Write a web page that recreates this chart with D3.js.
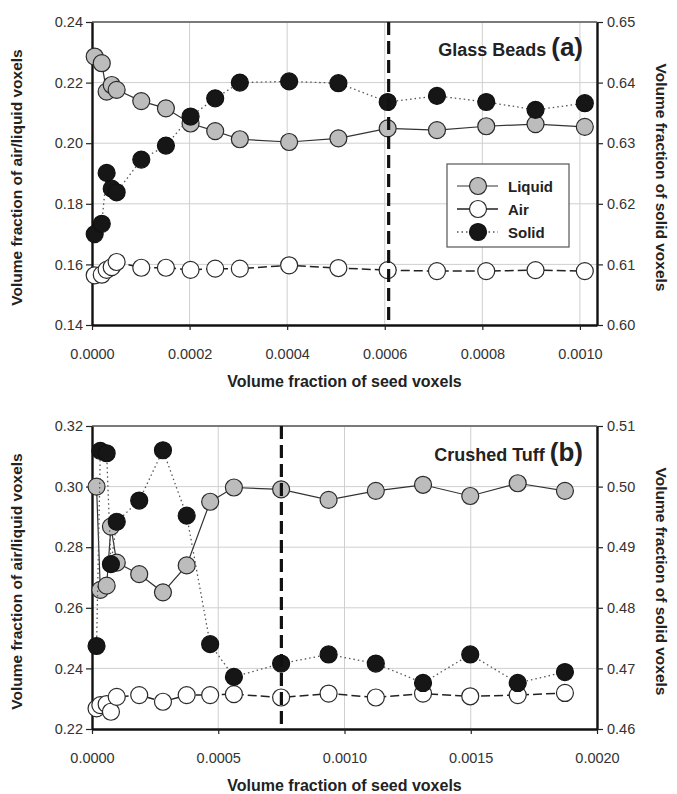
<!DOCTYPE html>
<html><head><meta charset="utf-8">
<script src="https://cdn.jsdelivr.net/npm/d3@7"></script>
<style>
html,body{margin:0;padding:0;background:#fff;}
text{font-family:"Liberation Sans",Arial,sans-serif;}
</style></head>
<body><svg id="chart" width="677" height="794"></svg>
<script>
// ---- Panel (a): Glass Beads ----
const topX = [0.0000055, 0.00002, 0.00003, 0.0000404, 0.0000505, 0.000101, 0.0001515, 0.000202, 0.0002525, 0.000303, 0.000404, 0.000505, 0.000606, 0.000707, 0.000808, 0.000909, 0.00101];
const topLiquid = [0.2286, 0.2264, 0.2170, 0.2192, 0.2176, 0.2139, 0.2115, 0.2065, 0.2040, 0.2013, 0.2004, 0.2016, 0.2049, 0.2043, 0.2056, 0.2063, 0.2054];
const topAir = [0.1564, 0.1566, 0.1582, 0.1591, 0.1608, 0.1589, 0.1589, 0.1582, 0.1586, 0.1586, 0.1597, 0.1588, 0.1581, 0.1578, 0.1578, 0.1581, 0.1578];
const topSolid = [0.6150, 0.6167, 0.6251, 0.6225, 0.6219, 0.6273, 0.6296, 0.6344, 0.6374, 0.6400, 0.6402, 0.6399, 0.6368, 0.6378, 0.6368, 0.6355, 0.6366];
const topXTicks = [0, 0.0002, 0.0004, 0.0006, 0.0008, 0.0010];
const topLeftTicks = [0.14, 0.16, 0.18, 0.20, 0.22, 0.24];
const topRightTicks = [0.60, 0.61, 0.62, 0.63, 0.64, 0.65];
const topMarker = 0.000608;

// ---- Panel (b): Crushed Tuff ----
const botX = [0.000018, 0.000033, 0.000058, 0.000075, 0.000098, 0.000187, 0.000281, 0.000375, 0.000468, 0.000562, 0.000749, 0.000937, 0.001124, 0.001311, 0.001498, 0.001686, 0.001873];
const botLiquid = [0.3000, 0.2659, 0.2673, 0.2868, 0.2749, 0.2711, 0.2651, 0.2740, 0.2950, 0.2997, 0.2991, 0.2956, 0.2986, 0.3006, 0.2969, 0.3011, 0.2986];
const botAir = [0.2268, 0.2279, 0.2282, 0.2257, 0.2306, 0.2312, 0.2290, 0.2312, 0.2312, 0.2315, 0.2304, 0.2317, 0.2304, 0.2317, 0.2308, 0.2312, 0.2319];
const botSolid = [0.4737, 0.5059, 0.5055, 0.4872, 0.4942, 0.4977, 0.5060, 0.4952, 0.4740, 0.4686, 0.4708, 0.4723, 0.4708, 0.4676, 0.4723, 0.4676, 0.4694];
const botXTicks = [0, 0.0005, 0.0010, 0.0015, 0.0020];
const botLeftTicks = [0.22, 0.24, 0.26, 0.28, 0.30, 0.32];
const botRightTicks = [0.46, 0.47, 0.48, 0.49, 0.50, 0.51];
const botMarker = 0.00075;

const seriesNames = ["Liquid", "Air", "Solid"];

const svg = d3.select("#chart");
const styles = {
  Liquid: {fill: "#bcbcbc", stroke: "#2a2a2a", line: "#333", dash: null, lw: 1.2},
  Air:    {fill: "#ffffff", stroke: "#2a2a2a", line: "#222", dash: "9,4", lw: 1.5},
  Solid:  {fill: "#161616", stroke: "#111", line: "#555", dash: "1.5,3", lw: 1.3}
};
const R = 8.5;

function panel(cfg) {
  const L = 92, Rt = 597;
  const x = d3.scaleLinear().domain(cfg.xDomain).range([L, Rt]);
  const yl = d3.scaleLinear().domain(cfg.yl).range([cfg.bottom, cfg.top]);
  const yr = d3.scaleLinear().domain(cfg.yr).range([cfg.bottom, cfg.top]);
  const g = svg.append("g");

  // gridlines
  g.append("g").selectAll("line").data(cfg.xTicks.slice(1)).join("line")
    .attr("x1", d => x(d)).attr("x2", d => x(d)).attr("y1", cfg.top).attr("y2", cfg.bottom)
    .attr("stroke", "#cfcfcf").attr("stroke-width", 1);
  g.append("g").selectAll("line").data(cfg.leftTicks.slice(1)).join("line")
    .attr("x1", L).attr("x2", Rt).attr("y1", d => yl(d)).attr("y2", d => yl(d))
    .attr("stroke", "#cfcfcf").attr("stroke-width", 1);

  // top border
  g.append("line").attr("x1", L).attr("x2", Rt).attr("y1", cfg.top).attr("y2", cfg.top)
    .attr("stroke", "#7a7a7a").attr("stroke-width", 2);

  // axes
  const fmtX = d3.format(".4f"), fmtY = d3.format(".2f");
  const ax = g.append("g").attr("transform", `translate(0,${cfg.bottom})`)
    .call(d3.axisBottom(x).tickValues(cfg.xTicks).tickFormat(fmtX).tickSizeOuter(0).tickSizeInner(5).tickPadding(19));
  const al = g.append("g").attr("transform", `translate(${L},0)`)
    .call(d3.axisLeft(yl).tickValues(cfg.leftTicks).tickFormat(fmtY).tickSizeOuter(0).tickSizeInner(6).tickPadding(3));
  const ar = g.append("g").attr("transform", `translate(${Rt},0)`)
    .call(d3.axisRight(yr).tickValues(cfg.rightTicks).tickFormat(fmtY).tickSizeOuter(0).tickSizeInner(6).tickPadding(4));
  [ax, al, ar].forEach(a => {
    a.select(".domain").attr("stroke", "#111").attr("stroke-width", 2.4);
    a.selectAll(".tick line").attr("stroke", "#222").attr("stroke-width", 1.2);
    a.selectAll(".tick text").attr("font-size", 14.5).attr("fill", "#333")
      .attr("font-family", "'Liberation Sans', Arial, sans-serif");
  });

  // series
  const data = {Liquid: cfg.liquid, Air: cfg.air, Solid: cfg.solid};
  ["Air", "Liquid", "Solid"].forEach(name => {
    const s = styles[name];
    const ys = name === "Solid" ? yr : yl;
    const pts = cfg.xs.map((d, i) => [x(d), ys(data[name][i])]);
    g.append("path").attr("d", d3.line()(pts)).attr("fill", "none")
      .attr("stroke", s.line).attr("stroke-width", s.lw).attr("stroke-dasharray", s.dash);
    g.append("g").selectAll("circle").data(pts).join("circle")
      .attr("cx", d => d[0]).attr("cy", d => d[1]).attr("r", R)
      .attr("fill", s.fill).attr("stroke", s.stroke).attr("stroke-width", 1.2);
  });

  // vertical dashed marker
  g.append("line").attr("x1", x(cfg.marker)).attr("x2", x(cfg.marker))
    .attr("y1", cfg.top).attr("y2", cfg.bottom)
    .attr("stroke", "#111").attr("stroke-width", 3.2).attr("stroke-dasharray", "13,6");

  // panel title
  const t = g.append("text").attr("x", 583).attr("y", cfg.top + cfg.titleDy)
    .attr("text-anchor", "end").attr("font-weight", "bold").attr("fill", "#222");
  t.append("tspan").attr("font-size", 18).text(cfg.title + " ");
  t.append("tspan").attr("font-size", 26).text(cfg.tag);

  // axis titles
  const midY = (cfg.top + cfg.bottom) / 2;
  g.append("text").attr("x", (L + Rt) / 2).attr("y", cfg.bottom + 62)
    .attr("text-anchor", "middle").attr("font-weight", "bold").attr("font-size", 16).attr("fill", "#222")
    .text("Volume fraction of seed voxels");
  g.append("text").attr("transform", `translate(22,${midY + 4}) rotate(-90)`)
    .attr("text-anchor", "middle").attr("font-weight", "bold").attr("font-size", 15.5).attr("fill", "#222")
    .text("Volume fraction of air/liquid voxels");
  g.append("text").attr("transform", `translate(656,${midY + 4}) rotate(90)`)
    .attr("text-anchor", "middle").attr("font-weight", "bold").attr("font-size", 15.5).attr("fill", "#222")
    .text("Volume fraction of solid voxels");
  return g;
}

panel({xDomain: [0, 0.001035], top: 22, bottom: 325, yl: [0.14, 0.24], yr: [0.60, 0.65],
  xTicks: topXTicks, leftTicks: topLeftTicks, rightTicks: topRightTicks,
  xs: topX, liquid: topLiquid, air: topAir, solid: topSolid, marker: topMarker,
  title: "Glass Beads", tag: "(a)", titleDy: 34});
panel({xDomain: [0, 0.002], top: 426, bottom: 729, yl: [0.22, 0.32], yr: [0.46, 0.51],
  xTicks: botXTicks, leftTicks: botLeftTicks, rightTicks: botRightTicks,
  xs: botX, liquid: botLiquid, air: botAir, solid: botSolid, marker: botMarker,
  title: "Crushed Tuff", tag: "(b)", titleDy: 35});

// legend (panel a)
const lg = svg.append("g");
lg.append("rect").attr("x", 447).attr("y", 164).attr("width", 122).attr("height", 83)
  .attr("fill", "#fff").attr("stroke", "#555").attr("stroke-width", 1.2);
seriesNames.forEach((name, i) => {
  const s = styles[name];
  const y = 186 + i * 23;
  lg.append("line").attr("x1", 457).attr("x2", 498).attr("y1", y).attr("y2", y)
    .attr("stroke", s.line).attr("stroke-width", s.lw).attr("stroke-dasharray", name === "Solid" ? s.dash : null);
  lg.append("circle").attr("cx", 478).attr("cy", y).attr("r", R)
    .attr("fill", s.fill).attr("stroke", s.stroke).attr("stroke-width", 1.2);
  lg.append("text").attr("x", 508).attr("y", y + 5.5).attr("font-size", 15).attr("font-weight", "bold")
    .attr("fill", "#222").text(name);
});
</script></body></html>
